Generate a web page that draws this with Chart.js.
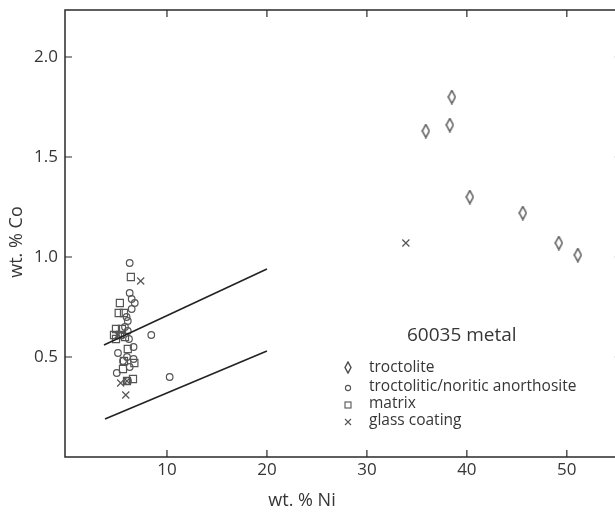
<!DOCTYPE html>
<html>
<head>
<meta charset="utf-8">
<script src="https://cdn.jsdelivr.net/npm/chart.js@4.4.0/dist/chart.umd.min.js"></script>
<style>
  html, body { margin:0; padding:0; background:#fff; overflow:hidden; }
  #wrap { position:relative; width:630px; height:513px; }
</style>
</head>
<body>
<div id="wrap"><canvas id="chart" width="630" height="513"></canvas></div>
<script>
// --- data ---------------------------------------------------------------
const xTicks = [10, 20, 30, 40, 50];
const yTicks = [0.5, 1.0, 1.5, 2.0];

const trocX = [38.5, 38.3, 35.9, 40.3, 45.6, 49.2, 51.1];
const trocY = [1.80, 1.66, 1.63, 1.30, 1.22, 1.07, 1.01];

const anorX = [6.27, 6.27, 6.47, 6.78, 6.47, 5.96, 6.08, 5.80, 6.08, 8.43, 6.20, 5.50, 5.10, 6.66, 6.00, 6.66, 5.60, 4.98, 10.27, 6.27, 6.10];
const anorY = [0.97, 0.82, 0.79, 0.77, 0.74, 0.70, 0.68, 0.65, 0.63, 0.61, 0.59, 0.61, 0.52, 0.55, 0.50, 0.49, 0.48, 0.42, 0.40, 0.45, 0.38];

const matrixX = [6.39, 5.29, 5.17, 5.70, 4.90, 5.50, 4.70, 5.30, 4.90, 5.80, 6.08, 5.70, 6.74, 5.60, 6.60, 6.00];
const matrixY = [0.90, 0.77, 0.72, 0.72, 0.64, 0.64, 0.61, 0.61, 0.59, 0.60, 0.54, 0.48, 0.47, 0.44, 0.39, 0.38];

const glassX = [7.37, 5.37, 5.88, 5.10, 6.00, 33.9];
const glassY = [0.88, 0.37, 0.31, 0.61, 0.38, 1.07];

const upperLineX = [3.7, 20.0];
const upperLineY = [0.56, 0.94];
const lowerLineX = [3.8, 20.0];
const lowerLineY = [0.19, 0.53];

const legendTitle = '60035 metal';
const legendLabels = ['troctolite', 'troctolitic/noritic anorthosite', 'matrix', 'glass coating'];

// --- helpers --------------------------------------------------------------
const ink = '#363636';
const font = '"Open Sans", "DejaVu Sans", sans-serif';
const zip = (xs, ys) => xs.map((x, i) => ({ x, y: ys[i] }));

function diamondImg(w, h){
  const c = document.createElement('canvas');
  c.width = w; c.height = h;
  const g = c.getContext('2d');
  g.strokeStyle = '#4a4a4a'; g.lineWidth = 1.4;
  g.beginPath();
  g.moveTo(w/2, 1); g.lineTo(w-1, h/2); g.lineTo(w/2, h-1); g.lineTo(1, h/2); g.closePath();
  g.stroke();
  return c;
}
const diamond = diamondImg(9, 15);
const diamondSmall = diamondImg(8, 13);

const pt = (style, r) => ({ showLine:false, pointStyle:style, pointRadius:r, pointHoverRadius:r,
  borderColor:'#555', backgroundColor:'rgba(0,0,0,0)', pointBorderWidth:1.2 });

// frame, inward ticks, axis titles, in-plot legend
const decor = {
  id:'decor',
  afterDraw(chart){
    const { ctx, chartArea:a, scales:{ x, y } } = chart;
    ctx.save();
    ctx.strokeStyle = '#2a2a2a'; ctx.lineWidth = 1.5;
    ctx.strokeRect(a.left, a.top, a.right - a.left, a.bottom - a.top);
    ctx.lineWidth = 1.2;
    const tl = 7;
    ctx.beginPath();
    xTicks.forEach(v => {
      const px = x.getPixelForValue(v);
      ctx.moveTo(px, a.bottom); ctx.lineTo(px, a.bottom - tl);
      ctx.moveTo(px, a.top); ctx.lineTo(px, a.top + tl);
    });
    yTicks.forEach(v => {
      const py = y.getPixelForValue(v);
      ctx.moveTo(a.left, py); ctx.lineTo(a.left + tl, py);
      ctx.moveTo(a.right, py); ctx.lineTo(a.right - tl, py);
    });
    ctx.stroke();

    // axis titles
    ctx.fillStyle = ink;
    ctx.font = '18px ' + font;
    ctx.textAlign = 'center'; ctx.textBaseline = 'middle';
    ctx.fillText('wt. % Ni', 302, 501);
    ctx.save();
    ctx.translate(17, 242); ctx.rotate(-Math.PI/2);
    ctx.fillText('wt. % Co', 0, 0);
    ctx.restore();

    // legend
    ctx.font = '19px ' + font;
    ctx.textAlign = 'left';
    ctx.fillText(legendTitle, 407, 336);
    ctx.font = '15.5px ' + font;
    const rows = [368, 387, 404, 421];
    legendLabels.forEach((t, i) => ctx.fillText(t, 369, rows[i]));
    const mx = 348;
    ctx.strokeStyle = '#555'; ctx.lineWidth = 1.1;
    ctx.drawImage(diamondSmall, mx - 4, rows[0] - 7);
    ctx.beginPath(); ctx.arc(mx, rows[1] + 1, 2.6, 0, Math.PI*2); ctx.stroke();
    ctx.strokeRect(mx - 3, rows[2] - 2, 6, 6);
    ctx.beginPath();
    ctx.moveTo(mx - 3, rows[3] - 2); ctx.lineTo(mx + 3, rows[3] + 4);
    ctx.moveTo(mx + 3, rows[3] - 2); ctx.lineTo(mx - 3, rows[3] + 4);
    ctx.stroke();
    ctx.restore();
  }
};

new Chart(document.getElementById('chart'), {
  type:'scatter',
  data:{
    datasets:[
      { label:'upper', data:zip(upperLineX, upperLineY), showLine:true, borderColor:'#222', borderWidth:1.6, pointRadius:0 },
      { label:'lower', data:zip(lowerLineX, lowerLineY), showLine:true, borderColor:'#222', borderWidth:1.6, pointRadius:0 },
      { label:legendLabels[0], data:zip(trocX, trocY), ...pt(diamond, 7) },
      { label:legendLabels[1], data:zip(anorX, anorY), ...pt('circle', 3.3) },
      { label:legendLabels[2], data:zip(matrixX, matrixY), ...pt('rect', 5) },
      { label:legendLabels[3], data:zip(glassX, glassY), ...pt('crossRot', 5) },
    ]
  },
  options:{
    responsive:false,
    animation:false,
    layout:{ padding:{ left:0, top:10, right:8, bottom:0 } },
    plugins:{ legend:{ display:false }, tooltip:{ enabled:false } },
    scales:{
      x:{
        type:'linear', min:-0.2, max:55.5,
        grid:{ display:false, drawTicks:false, tickLength:0 }, border:{ display:false },
        afterBuildTicks: s => { s.ticks = xTicks.map(v => ({ value:v })); },
        afterFit: s => { s.height = 56; s.paddingLeft = 0; s.paddingRight = 0; },
        ticks:{ color:ink, padding:3, font:{ family:font, size:17 }, callback: v => String(v) }
      },
      y:{
        type:'linear', min:0, max:2.235,
        grid:{ display:false, drawTicks:false, tickLength:0 }, border:{ display:false },
        afterBuildTicks: s => { s.ticks = yTicks.map(v => ({ value:v })); },
        afterFit: s => { s.width = 65; s.paddingTop = 0; s.paddingBottom = 0; },
        ticks:{ color:ink, padding:7, font:{ family:font, size:17 }, callback: v => v.toFixed(1) }
      }
    }
  },
  plugins:[decor]
});
</script>
</body>
</html>
